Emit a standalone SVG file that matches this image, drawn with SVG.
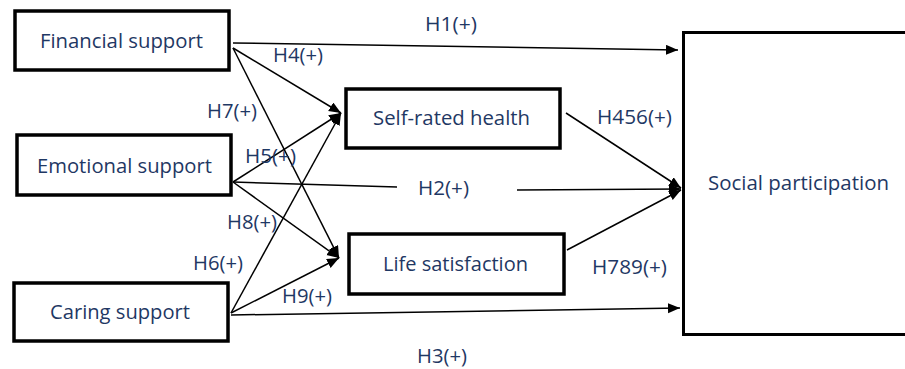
<svg xmlns="http://www.w3.org/2000/svg" width="905" height="369" viewBox="0 0 905 369">
<style>
.box{fill:#fff;stroke:#000;stroke-width:3.5}
.t{font-family:"Open Sans","Noto Sans",sans-serif;font-size:20px;fill:#1f3864}
.c{stroke:#000;stroke-width:1.5;fill:none;marker-end:url(#ah)}
.n{stroke:#000;stroke-width:1.5;fill:none}
</style>
<defs>
<marker id="ah" markerUnits="userSpaceOnUse" markerWidth="13" markerHeight="11" refX="12" refY="5" orient="auto" viewBox="0 0 13 11">
<path d="M0,0 L12,5 L0,10 z" fill="#000"/>
</marker>
</defs>
<rect width="905" height="369" fill="#fff"/>
<g id="connectors">
<line class="c" x1="233" y1="43" x2="678" y2="50"/>
<line class="c" x1="233" y1="48" x2="341" y2="113"/>
<line class="c" x1="233" y1="48" x2="339" y2="258"/>
<line class="c" x1="233" y1="182" x2="341" y2="113"/>
<line class="n" x1="233" y1="182" x2="397" y2="187"/>
<line class="c" x1="517" y1="190" x2="681" y2="189"/>
<line class="c" x1="233" y1="182" x2="339" y2="258"/>
<line class="c" x1="231" y1="313" x2="341" y2="113"/>
<line class="c" x1="231" y1="313" x2="339" y2="258"/>
<line class="c" x1="231" y1="315" x2="680" y2="308"/>
<line class="c" x1="566" y1="113" x2="681" y2="188"/>
<line class="c" x1="567" y1="250" x2="681" y2="190"/>
</g>
<g id="labels">
<text class="t" x="425" y="31" textLength="52" lengthAdjust="spacingAndGlyphs">H1(+)</text>
<text class="t" x="273" y="62" textLength="50" lengthAdjust="spacingAndGlyphs">H4(+)</text>
<text class="t" x="207" y="118" textLength="50" lengthAdjust="spacingAndGlyphs">H7(+)</text>
<text class="t" x="245" y="163" textLength="51" lengthAdjust="spacingAndGlyphs">H5(+)</text>
<text class="t" x="418" y="195" textLength="51" lengthAdjust="spacingAndGlyphs">H2(+)</text>
<text class="t" x="227" y="229" textLength="50" lengthAdjust="spacingAndGlyphs">H8(+)</text>
<text class="t" x="193" y="270" textLength="50" lengthAdjust="spacingAndGlyphs">H6(+)</text>
<text class="t" x="282" y="303" textLength="50" lengthAdjust="spacingAndGlyphs">H9(+)</text>
<text class="t" x="417" y="363" textLength="50" lengthAdjust="spacingAndGlyphs">H3(+)</text>
<text class="t" x="597" y="124" textLength="75" lengthAdjust="spacingAndGlyphs">H456(+)</text>
<text class="t" x="592" y="274" textLength="75" lengthAdjust="spacingAndGlyphs">H789(+)</text>
</g>
<g id="financial">
<rect class="box" x="15" y="11" width="214" height="59"/>
<text class="t" x="40" y="48" textLength="163" lengthAdjust="spacingAndGlyphs">Financial support</text>
</g>
<g id="emotional">
<rect class="box" x="17" y="135" width="214" height="60"/>
<text class="t" x="37" y="173" textLength="175" lengthAdjust="spacingAndGlyphs">Emotional support</text>
</g>
<g id="caring">
<rect class="box" x="14" y="283" width="214" height="58"/>
<text class="t" x="50" y="319" textLength="140" lengthAdjust="spacingAndGlyphs">Caring support</text>
</g>
<g id="selfrated">
<rect class="box" x="346" y="89" width="214" height="59"/>
<text class="t" x="373" y="125" textLength="157" lengthAdjust="spacingAndGlyphs">Self-rated health</text>
</g>
<g id="life">
<rect class="box" x="349" y="234" width="215" height="60"/>
<text class="t" x="383" y="271" textLength="145" lengthAdjust="spacingAndGlyphs">Life satisfaction</text>
</g>
<g id="social">
<rect class="box" x="683.5" y="32.5" width="240" height="302" style="stroke-width:3"/>
<text class="t" x="708" y="190" textLength="181" lengthAdjust="spacingAndGlyphs">Social participation</text>
</g>
</svg>
